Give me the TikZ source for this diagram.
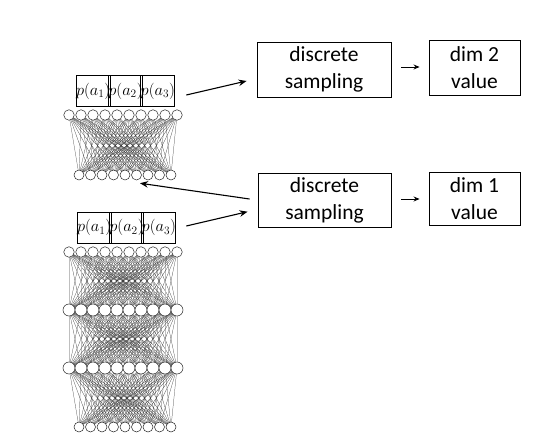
\documentclass[tikz,border=0pt]{standalone}
\usepackage{fontspec}
\newfontfamily\boxfont{Carlito}
\usetikzlibrary{arrows.meta,backgrounds}
\begin{document}
\begin{tikzpicture}[x=1pt,y=-1pt,
  neuron/.style={circle,draw=black!85,fill=white,line width=0.5pt,inner sep=0pt,minimum size=#1},
  link/.style={draw=black!80,line width=0.22pt},
  vlink/.style={draw=black!25,line width=0.15pt},
  pcell/.style={draw=black,line width=0.9pt,minimum width=32.3pt,minimum height=31pt,inner sep=0pt,font=\fontsize{17.28}{20}\selectfont},
  stepbox/.style={draw=black,line width=0.9pt,inner sep=0pt,align=center,font=\boxfont\fontsize{21.5}{27}\selectfont},
  bigarrow/.style={line width=1.1pt,-{Stealth[length=8pt,width=6.5pt]}},
  smallarrow/.style={line width=0.8pt,-{Stealth[length=6pt,width=5pt]}}
]
\useasboundingbox (0,0) rectangle (560,446);

% ---------- upper network ----------
\foreach \i in {1,...,10} \node[neuron=10.5pt] (a\i) at ({69+12*(\i-1)},115) {};
\foreach \i in {1,...,9} \node[neuron=10pt] (b\i) at ({79+11.5*(\i-1)},175) {};
\begin{scope}[on background layer]
\foreach \i in {1,...,10} \foreach \j in {1,...,9} \draw[link] (a\i.center) -- (b\j.center);
\end{scope}

% ---------- lower network ----------
\foreach \i in {1,...,10} \node[neuron=10.5pt] (c\i) at ({69+12*(\i-1)},252) {};
\foreach \i in {1,...,10} \node[neuron=12pt] (d\i) at ({69+12*(\i-1)},310) {};
\foreach \i in {1,...,10} \node[neuron=12pt] (e\i) at ({69+12*(\i-1)},368) {};
\foreach \i in {1,...,9} \node[neuron=10pt] (f\i) at ({79+11.5*(\i-1)},427) {};
\begin{scope}[on background layer]
\foreach \i in {1,...,10} \foreach \j in {1,...,10} {
  \ifnum\i=\j
    \draw[vlink] (c\i.center) -- (d\j.center);
    \draw[vlink] (d\i.center) -- (e\j.center);
  \else
    \draw[link] (c\i.center) -- (d\j.center);
    \draw[link] (d\i.center) -- (e\j.center);
  \fi
}
\foreach \i in {1,...,10} \foreach \j in {1,...,9} \draw[link] (e\i.center) -- (f\j.center);
\end{scope}

% ---------- probability cells ----------
\node[pcell] (pu1) at (93.2,91) {\scalebox{0.95}{$p(a_1)$}};
\node[pcell] (pu2) at (125.5,91) {\scalebox{0.95}{$p(a_2)$}};
\node[pcell] (pu3) at (157.8,91) {\scalebox{0.95}{$p(a_3)$}};
\node[pcell] (pl1) at (94.2,227.5) {\scalebox{0.95}{$p(a_1)$}};
\node[pcell] (pl2) at (126.5,227.5) {\scalebox{0.95}{$p(a_2)$}};
\node[pcell] (pl3) at (158.8,227.5) {\scalebox{0.95}{$p(a_3)$}};

% ---------- boxes ----------
\node[stepbox,minimum width=134pt,minimum height=55pt] (ds2) at (324,69.5) {discrete\\sampling};
\node[stepbox,minimum width=91pt,minimum height=55pt] (dim2) at (474.5,67.5) {dim 2\\value};
\node[stepbox,minimum width=133pt,minimum height=54pt] (ds1) at (324.5,200) {discrete\\sampling};
\node[stepbox,minimum width=91pt,minimum height=53pt] (dim1) at (474.5,198.5) {dim 1\\value};

% ---------- arrows ----------
\draw[bigarrow] ([xshift=11pt,yshift=-4pt]pu3.east) -- ([xshift=-10pt,yshift=-11.5pt]ds2.west);
\draw[bigarrow] ([xshift=10pt,yshift=1.5pt]pl3.east) -- ([xshift=-10pt,yshift=-11.7pt]ds1.west);
\draw[bigarrow] ([xshift=-8pt,yshift=1pt]ds1.west) -- ([xshift=3.5pt,yshift=-3pt]b6.south);
\draw[smallarrow] ([xshift=10pt,yshift=2.5pt]ds2.east) -- ([xshift=-9pt,yshift=0.5pt]dim2.west);
\draw[smallarrow] ([xshift=10pt,yshift=1pt]ds1.east) -- ([xshift=-9pt,yshift=-0.5pt]dim1.west);
\end{tikzpicture}
\end{document}
